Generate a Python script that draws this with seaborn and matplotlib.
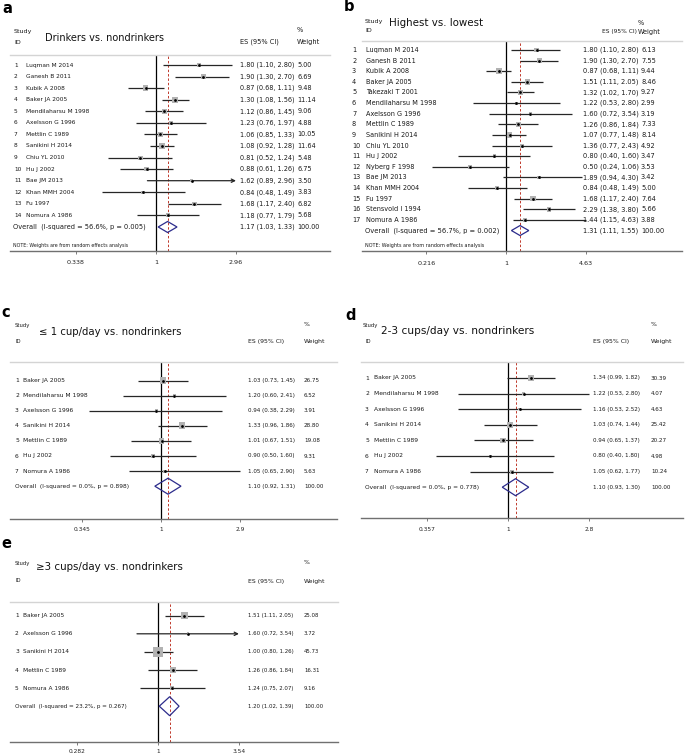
import numpy as np
import pandas as pd
import matplotlib
matplotlib.use("Agg")
import matplotlib.pyplot as plt
import matplotlib.transforms as mtrans
import seaborn as sns

W, H = 685, 756

# ---------------- data ----------------
# Panel a: Drinkers vs. nondrinkers
title_a = "Drinkers vs. nondrinkers"
studies_a = ["Luqman M 2014", "Ganesh B 2011", "Kubik A 2008", "Baker JA 2005",
             "Mendilaharsu M 1998", "Axelsson G 1996", "Mettlin C 1989", "Sanikini H 2014",
             "Chiu YL 2010", "Hu J 2002", "Bae JM 2013", "Khan MMH 2004", "Fu 1997",
             "Nomura A 1986"]
es_a = [1.80, 1.90, 0.87, 1.30, 1.12, 1.23, 1.06, 1.08, 0.81, 0.88, 1.62, 0.84, 1.68, 1.18]
lo_a = [1.10, 1.30, 0.68, 1.08, 0.86, 0.76, 0.85, 0.92, 0.52, 0.61, 0.89, 0.48, 1.17, 0.77]
hi_a = [2.80, 2.70, 1.11, 1.56, 1.45, 1.97, 1.33, 1.28, 1.24, 1.26, 2.96, 1.49, 2.40, 1.79]
wt_a = [5.00, 6.69, 9.48, 11.14, 9.06, 4.88, 10.05, 11.64, 5.48, 6.75, 3.50, 3.83, 6.82, 5.68]
overall_a = [1.17, 1.03, 1.33]
het_a = "Overall  (I-squared = 56.6%, p = 0.005)"
ticks_a = [0.338, 1, 2.96]
ticklabels_a = ["0.338", "1", "2.96"]

# Panel b: Highest vs. lowest
title_b = "Highest vs. lowest"
studies_b = ["Luqman M 2014", "Ganesh B 2011", "Kubik A 2008", "Baker JA 2005",
             "Takezaki T 2001", "Mendilaharsu M 1998", "Axelsson G 1996", "Mettlin C 1989",
             "Sanikini H 2014", "Chiu YL 2010", "Hu J 2002", "Nyberg F 1998", "Bae JM 2013",
             "Khan MMH 2004", "Fu 1997", "Stensvold I 1994", "Nomura A 1986"]
es_b = [1.80, 1.90, 0.87, 1.51, 1.32, 1.22, 1.60, 1.26, 1.07, 1.36, 0.80, 0.50, 1.89, 0.84, 1.68, 2.29, 1.44]
lo_b = [1.10, 1.30, 0.68, 1.11, 1.02, 0.53, 0.72, 0.86, 0.77, 0.77, 0.40, 0.24, 0.94, 0.48, 1.17, 1.38, 1.15]
hi_b = [2.80, 2.70, 1.11, 2.05, 1.70, 2.80, 3.54, 1.84, 1.48, 2.43, 1.60, 1.06, 4.30, 1.49, 2.40, 3.80, 4.63]
wt_b = [6.13, 7.55, 9.44, 8.46, 9.27, 2.99, 3.19, 7.33, 8.14, 4.92, 3.47, 3.53, 3.42, 5.00, 7.64, 5.66, 3.88]
overall_b = [1.31, 1.11, 1.55]
het_b = "Overall  (I-squared = 56.7%, p = 0.002)"
ticks_b = [0.216, 1, 4.63]
ticklabels_b = ["0.216", "1", "4.63"]

# Panel c: <= 1 cup/day vs. nondrinkers
title_c = "\u2264 1 cup/day vs. nondrinkers"
studies_c = ["Baker JA 2005", "Mendilaharsu M 1998", "Axelsson G 1996", "Sanikini H 2014",
             "Mettlin C 1989", "Hu J 2002", "Nomura A 1986"]
es_c = [1.03, 1.20, 0.94, 1.33, 1.01, 0.90, 1.05]
lo_c = [0.73, 0.60, 0.38, 0.96, 0.67, 0.50, 0.65]
hi_c = [1.45, 2.41, 2.29, 1.86, 1.51, 1.60, 2.90]
wt_c = [26.75, 6.52, 3.91, 28.80, 19.08, 9.31, 5.63]
overall_c = [1.10, 0.92, 1.31]
het_c = "Overall  (I-squared = 0.0%, p = 0.898)"
ticks_c = [0.345, 1, 2.9]
ticklabels_c = ["0.345", "1", "2.9"]

# Panel d: 2-3 cups/day vs. nondrinkers
title_d = "2-3 cups/day vs. nondrinkers"
studies_d = ["Baker JA 2005", "Mendilaharsu M 1998", "Axelsson G 1996", "Sanikini H 2014",
             "Mettlin C 1989", "Hu J 2002", "Nomura A 1986"]
es_d = [1.34, 1.22, 1.16, 1.03, 0.94, 0.80, 1.05]
lo_d = [0.99, 0.53, 0.53, 0.74, 0.65, 0.40, 0.62]
hi_d = [1.82, 2.80, 2.52, 1.44, 1.37, 1.80, 1.77]
wt_d = [30.39, 4.07, 4.63, 25.42, 20.27, 4.98, 10.24]
overall_d = [1.10, 0.93, 1.30]
het_d = "Overall  (I-squared = 0.0%, p = 0.778)"
ticks_d = [0.357, 1, 2.8]
ticklabels_d = ["0.357", "1", "2.8"]

# Panel e: >=3 cups/day vs. nondrinkers
title_e = "\u22653 cups/day vs. nondrinkers"
studies_e = ["Baker JA 2005", "Axelsson G 1996", "Sanikini H 2014", "Mettlin C 1989", "Nomura A 1986"]
es_e = [1.51, 1.60, 1.00, 1.26, 1.24]
lo_e = [1.11, 0.72, 0.80, 0.86, 0.75]
hi_e = [2.05, 3.54, 1.26, 1.84, 2.07]
wt_e = [25.08, 3.72, 45.73, 16.31, 9.16]
overall_e = [1.20, 1.02, 1.39]
het_e = "Overall  (I-squared = 23.2%, p = 0.267)"
ticks_e = [0.282, 1, 3.54]
ticklabels_e = ["0.282", "1", "3.54"]

note_text = "NOTE: Weights are from random effects analysis"

# ---------------- layout (pixels) ----------------
PA = dict(letter="a", letter_xy=(2, 13), L=10, R=330, top=55, bottom=251, x1=156, ppl=73.7,
          row1=65, sp=11.57, num_x=14, name_x=26, es_x=240, wt_x=297.5, ov_x=13, note=(13, 245),
          study_xy=(14, 31), id_xy=(14, 42), title_xy=(45, 38), title_fs=7.0,
          esh_xy=(240, 42), pct_xy=(297, 30), wth_xy=(297, 42), tick_y=263, box_k=1.75,
          dia_px=5.5, lab_fs=4.2, es_fs=4.7, ov_fs=4.8, hdr_fs=4.8, esh_fs=4.8, st_fs=4.6,
          tick_fs=4.6, note_fs=3.4, arrows=[11])
PB = dict(letter="b", letter_xy=(344, 11), L=362, R=682, top=41, bottom=251, x1=506, ppl=52,
          row1=50, sp=10.62, num_x=352, name_x=366, es_x=583, wt_x=641, ov_x=365, note=(365, 246),
          study_xy=(365, 21), id_xy=(365, 31), title_xy=(389, 23), title_fs=7.4,
          esh_xy=(602, 31), pct_xy=(638, 23), wth_xy=(638, 32), tick_y=264, box_k=1.85,
          dia_px=5.0, lab_fs=4.7, es_fs=4.8, ov_fs=4.85, hdr_fs=4.7, esh_fs=4.2, st_fs=4.6,
          tick_fs=4.6, note_fs=3.5, arrows=[])
PC = dict(letter="c", letter_xy=(1, 317), L=10, R=337, top=362, bottom=519, x1=161, ppl=74,
          row1=380.5, sp=15.1, num_x=15, name_x=23, es_x=248, wt_x=304, ov_x=15, note=None,
          study_xy=(15, 325), id_xy=(15, 342), title_xy=(39, 332), title_fs=7.3,
          esh_xy=(248, 342), pct_xy=(304, 325), wth_xy=(304, 342), tick_y=530, box_k=1.25,
          dia_px=8.0, lab_fs=4.3, es_fs=4.1, ov_fs=4.2, hdr_fs=4.4, esh_fs=4.4, st_fs=3.8,
          tick_fs=4.2, note_fs=3.4, arrows=[])
PD = dict(letter="d", letter_xy=(345, 320), L=361, R=683, top=362, bottom=518, x1=508, ppl=79,
          row1=378, sp=15.6, num_x=365, name_x=374, es_x=593, wt_x=651, ov_x=365, note=None,
          study_xy=(363, 325), id_xy=(365, 342), title_xy=(381, 331), title_fs=7.6,
          esh_xy=(593, 342), pct_xy=(651, 325), wth_xy=(651, 342), tick_y=530, box_k=1.2,
          dia_px=8.5, lab_fs=4.3, es_fs=4.1, ov_fs=4.2, hdr_fs=4.4, esh_fs=4.4, st_fs=3.8,
          tick_fs=4.2, note_fs=3.4, arrows=[])
PE = dict(letter="e", letter_xy=(1, 548), L=10, R=338, top=602, bottom=742, x1=158, ppl=64,
          row1=615.7, sp=18.1, num_x=15, name_x=23, es_x=248, wt_x=304, ov_x=15, note=None,
          study_xy=(15, 563), id_xy=(15, 581), title_xy=(36, 567), title_fs=7.4,
          esh_xy=(248, 581), pct_xy=(304, 563), wth_xy=(304, 581), tick_y=752, box_k=1.45,
          dia_px=9.5, lab_fs=4.2, es_fs=3.9, ov_fs=4.1, hdr_fs=4.4, esh_fs=4.4, st_fs=3.8,
          tick_fs=4.2, note_fs=3.4, arrows=[2])

sns.set_theme(style="white")
plt.rcParams["font.family"] = ["DejaVu Sans"]

fig = plt.figure(figsize=(W / 100, H / 100), dpi=100)
fig.patch.set_facecolor("white")


def ftext(px, py, s, **kw):
    fig.text(px / W, 1 - py / H, s, **kw)


def draw_panel(P, title, studies, es, lo, hi, wt, overall, het, ticks, ticklabels):
    n = len(studies)
    L, R, top, bot = P["L"], P["R"], P["top"], P["bottom"]
    ax = fig.add_axes([L / W, 1 - bot / H, (R - L) / W, (bot - top) / H])
    ax.set_xscale("log")
    rows = np.arange(1, n + 1)
    df = pd.DataFrame({"study": studies, "es": es, "lo": lo, "hi": hi, "wt": wt, "row": rows})

    # confidence intervals
    plain = df[~df["row"].isin(P["arrows"])]
    ax.hlines(plain["row"], plain["lo"], plain["hi"], color="#262626", lw=0.9, zorder=2)
    for _, r in df[df["row"].isin(P["arrows"])].iterrows():
        ax.annotate("", xy=(r["hi"], r["row"]), xytext=(r["lo"], r["row"]),
                    arrowprops=dict(arrowstyle="->", color="#262626", lw=0.9,
                                    shrinkA=0, shrinkB=0, mutation_scale=6), zorder=2)

    # weight boxes
    k = P["box_k"]
    wmax = max(wt)
    smax = 0.5184 * k * k * wmax
    sns.scatterplot(data=df, x="es", y="row", size="wt", sizes=(0.0, smax), size_norm=(0, wmax),
                    marker="s", color="#b2b2b2", linewidth=0, legend=False, ax=ax, zorder=3)
    sns.scatterplot(data=df, x="es", y="row", marker="o", s=4.0, color="black",
                    linewidth=0, legend=False, ax=ax, zorder=4)

    # reference lines
    ax.axvline(1, color="black", lw=0.9, zorder=1)
    ax.axvline(overall[0], color="#c0392b", lw=0.7, ls=(0, (2.5, 2.0)), zorder=1)

    # overall diamond
    orow = n + 1
    hh = P["dia_px"] / P["sp"]
    ax.fill([overall[1], overall[0], overall[2], overall[0], overall[1]],
            [orow, orow - hh, orow, orow + hh, orow],
            facecolor="none", edgecolor="#2c2c8c", lw=0.9, zorder=5)

    # limits
    x1, ppl = P["x1"], P["ppl"]
    ax.set_xlim(np.exp((L - x1) / ppl), np.exp((R - x1) / ppl))
    r1, sp = P["row1"], P["sp"]
    ax.set_ylim(1 + (bot - r1) / sp, 1 - (r1 - top) / sp)
    ax.set_xlabel("")
    ax.set_ylabel("")
    ax.set_yticks([])
    ax.xaxis.set_minor_locator(matplotlib.ticker.NullLocator())
    ax.set_xticks(ticks)
    ax.set_xticklabels(ticklabels)
    ticklen = 2.2
    pad = (P["tick_y"] - bot - 3.2) * 0.72 - ticklen
    ax.tick_params(axis="x", which="major", direction="out", length=ticklen, width=0.6,
                   color="#666666", labelsize=P["tick_fs"], labelcolor="#222222", pad=pad,
                   bottom=True)
    for side in ["left", "right"]:
        ax.spines[side].set_visible(False)
    ax.spines["bottom"].set_color("#707070")
    ax.spines["bottom"].set_linewidth(1.0)
    ax.spines["top"].set_color("#d4d4d4")
    ax.spines["top"].set_linewidth(1.0)
    ax.set_facecolor("none")

    # row texts
    tr = mtrans.blended_transform_factory(fig.transFigure, ax.transData)
    tc = "#1a1a1a"
    for i, r in df.iterrows():
        ax.text(P["num_x"] / W, r["row"], str(int(r["row"])), transform=tr, ha="left",
                va="center", fontsize=P["lab_fs"], color=tc)
        ax.text(P["name_x"] / W, r["row"], r["study"], transform=tr, ha="left",
                va="center", fontsize=P["lab_fs"], color=tc)
        ax.text(P["es_x"] / W, r["row"], f"{r['es']:.2f} ({r['lo']:.2f}, {r['hi']:.2f})",
                transform=tr, ha="left", va="center", fontsize=P["es_fs"], color=tc)
        ax.text(P["wt_x"] / W, r["row"], f"{r['wt']:.2f}", transform=tr, ha="left",
                va="center", fontsize=P["es_fs"], color=tc)
    ax.text(P["ov_x"] / W, orow, het, transform=tr, ha="left", va="center",
            fontsize=P["ov_fs"], color=tc)
    ax.text(P["es_x"] / W, orow, f"{overall[0]:.2f} ({overall[1]:.2f}, {overall[2]:.2f})",
            transform=tr, ha="left", va="center", fontsize=P["es_fs"], color=tc)
    ax.text(P["wt_x"] / W, orow, "100.00", transform=tr, ha="left", va="center",
            fontsize=P["es_fs"], color=tc)

    # headers
    ftext(*P["letter_xy"], P["letter"], fontsize=10.5, fontweight="bold", ha="left",
          va="baseline", color="black")
    ftext(*P["study_xy"], "Study", fontsize=P["st_fs"], ha="left", va="center", color=tc)
    ftext(*P["id_xy"], "ID", fontsize=P["st_fs"], ha="left", va="center", color=tc)
    ftext(*P["title_xy"], title, fontsize=P["title_fs"], ha="left", va="center", color="#111111")
    ftext(*P["esh_xy"], "ES (95% CI)", fontsize=P["esh_fs"], ha="left", va="center", color=tc)
    ftext(*P["pct_xy"], "%", fontsize=P["hdr_fs"], ha="left", va="center", color=tc)
    ftext(*P["wth_xy"], "Weight", fontsize=P["hdr_fs"], ha="left", va="center", color=tc)
    if P["note"] is not None:
        ftext(*P["note"], note_text, fontsize=P["note_fs"], ha="left", va="center", color=tc)
    return ax


draw_panel(PA, title_a, studies_a, es_a, lo_a, hi_a, wt_a, overall_a, het_a, ticks_a, ticklabels_a)
draw_panel(PB, title_b, studies_b, es_b, lo_b, hi_b, wt_b, overall_b, het_b, ticks_b, ticklabels_b)
draw_panel(PC, title_c, studies_c, es_c, lo_c, hi_c, wt_c, overall_c, het_c, ticks_c, ticklabels_c)
draw_panel(PD, title_d, studies_d, es_d, lo_d, hi_d, wt_d, overall_d, het_d, ticks_d, ticklabels_d)
draw_panel(PE, title_e, studies_e, es_e, lo_e, hi_e, wt_e, overall_e, het_e, ticks_e, ticklabels_e)

fig.savefig("out.png", dpi=100, facecolor="white")
